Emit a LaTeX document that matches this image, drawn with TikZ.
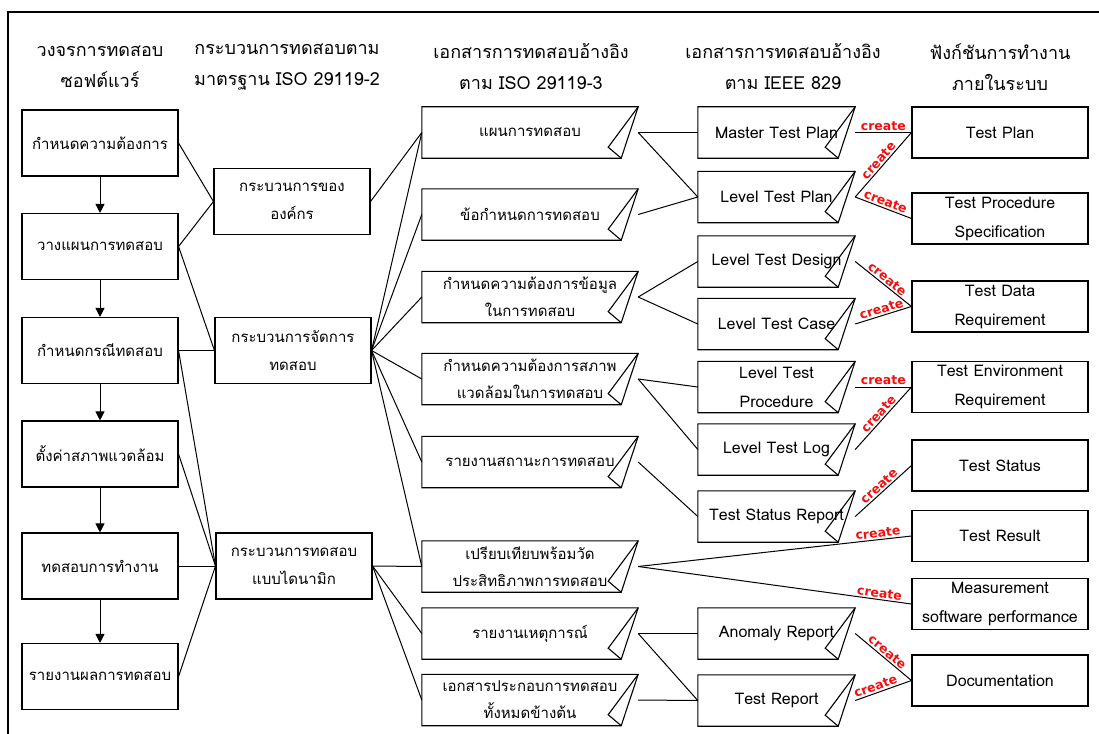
\documentclass[tikz,border=0pt]{standalone}
\usepackage{fontspec}
\setmainfont[Script=Thai]{Loma}
\newfontfamily\mkfont{DejaVu Sans}
\usetikzlibrary{arrows.meta, positioning, calc}
\definecolor{mkred}{HTML}{F01010}

\tikzset{
  head/.style={align=center, font=\fontsize{18}{31}\selectfont},
  cyclebox/.style={draw, line width=1.1pt, minimum width=156pt, minimum height=66pt, align=center, inner sep=1pt, font=\fontsize{15}{28}\selectfont},
  docbox/.style={minimum height=51pt, align=center, inner sep=1pt, font=\fontsize{15}{27}\selectfont},
  latin/.style={font=\fontsize{16}{29}\selectfont},
  funcbox/.style={draw, line width=1.1pt, minimum width=176pt, minimum height=51pt, align=center, inner sep=1pt, font=\fontsize{16}{29}\selectfont},
  wire/.style={line width=1pt},
  flow/.style={line width=1pt, -{Triangle[width=9pt, length=9pt]}},
  mk/.style={sloped, above, inner sep=1.5pt, text=mkred, font=\mkfont\fontsize{12.5}{13}\selectfont\bfseries},
}

% document outline with folded corner
\newcommand{\docfold}[1]{%
  \draw[line width=1.1pt] (#1.north west) -- (#1.north east) -- ([xshift=-17pt]#1.south east) -- (#1.south west) -- cycle;
  \draw[line width=1.1pt] (#1.north east) -- ([xshift=-30pt, yshift=11pt]#1.south east) -- ([xshift=-17pt]#1.south east);}

\begin{document}
\begin{tikzpicture}[x=1pt, y=-1pt]
    \useasboundingbox (0,0) rectangle (1099,733);
    \draw[line width=1.3pt] (8,745) |- (1110,12);

    % headers
    \node[head] (h1) at (100,67) {วงจรการทดสอบ\\ซอฟต์แวร์};
    \node[head] (h2) at (287,67) {กระบวนการทดสอบตาม\\มาตรฐาน ISO 29119-2};
    \node[head] (h3) at (531,67) {เอกสารการทดสอบอ้างอิง\\ตาม ISO 29119-3};
    \node[head] (h4) at (783,67) {เอกสารการทดสอบอ้างอิง\\ตาม IEEE 829};
    \node[head] (h5) at (1000,67) {ฟังก์ชันการทำงาน\\ภายในระบบ};

    % test cycle
    \node[cyclebox] (req) at (100,143) {กำหนดความต้องการ};
    \node[cyclebox] (plan) at (100,246.5) {วางแผนการทดสอบ};
    \node[cyclebox] (case) at (100,350.5) {กำหนดกรณีทดสอบ};
    \node[cyclebox] (env) at (100,454) {ตั้งค่าสภาพแวดล้อม};
    \node[cyclebox] (exec) at (100,566) {ทดสอบการทำงาน};
    \node[cyclebox] (rep) at (100,676.5) {รายงานผลการทดสอบ};

    % ISO 29119-2 processes
    \node[cyclebox] (org) at (292,201.5) {กระบวนการของ\\องค์กร};
    \node[cyclebox] (mgmt) at (293,350.5) {กระบวนการจัดการ\\ทดสอบ};
    \node[cyclebox] (dyn) at (294,566) {กระบวนการทดสอบ\\แบบไดนามิก};

    % ISO 29119-3 documents
    \node[docbox, minimum width=216pt] (d1) at (530,132.5) {แผนการทดสอบ};
    \node[docbox, minimum width=216pt] (d2) at (530,214.5) {ข้อกำหนดการทดสอบ};
    \node[docbox, minimum width=216pt] (d3) at (530,297) {กำหนดความต้องการข้อมูล\\ในการทดสอบ};
    \node[docbox, minimum width=216pt] (d4) at (530,379) {กำหนดความต้องการสภาพ\\แวดล้อมในการทดสอบ};
    \node[docbox, minimum width=216pt] (d5) at (530,462) {รายงานสถานะการทดสอบ};
    \node[docbox, minimum width=216pt] (d6) at (530,566.5) {เปรียบเทียบพร้อมวัด\\ประสิทธิภาพการทดสอบ};
    \node[docbox, minimum width=216pt] (d7) at (530,633.5) {รายงานเหตุการณ์};
    \node[docbox, minimum width=216pt] (d8) at (530,700) {เอกสารประกอบการทดสอบ\\ทั้งหมดข้างต้น};

    % IEEE 829 documents
    \node[docbox, latin, minimum width=157pt] (mtp) at (776.5,132.5) {Master Test Plan};
    \node[docbox, latin, minimum width=157pt] (ltp) at (776.5,197) {Level Test Plan};
    \node[docbox, latin, minimum width=157pt] (ltd) at (776.5,261.5) {Level Test Design};
    \node[docbox, latin, minimum width=157pt] (ltc) at (776.5,324) {Level Test Case};
    \node[docbox, latin, minimum width=157pt] (ltpr) at (776.5,387) {Level Test\\Procedure};
    \node[docbox, latin, minimum width=157pt] (ltl) at (776.5,449.5) {Level Test Log};
    \node[docbox, latin, minimum width=157pt] (tsr) at (776.5,516.5) {Test Status Report};
    \node[docbox, latin, minimum width=157pt] (ar) at (776.5,633.5) {Anomaly Report};
    \node[docbox, latin, minimum width=157pt] (tr) at (776.5,700.5) {Test Report};

    \foreach \n in {d1,d2,d3,d4,d5,d6,d7,d8,mtp,ltp,ltd,ltc,ltpr,ltl,tsr,ar,tr}
        \docfold{\n};

    % system functions
    \node[funcbox] (f1) at (1000,132.5) {Test Plan};
    \node[funcbox] (f2) at (1000,218.5) {Test Procedure\\Specification};
    \node[funcbox] (f3) at (1000,306.5) {Test Data\\Requirement};
    \node[funcbox] (f4) at (1000,387) {Test Environment\\Requirement};
    \node[funcbox] (f5) at (1000,465.5) {Test Status};
    \node[funcbox] (f6) at (1000,536) {Test Result};
    \node[funcbox] (f7) at (1000,604) {Measurement\\software performance};
    \node[funcbox] (f8) at (1000,680.5) {Documentation};

    % cycle flow
    \draw[flow] (req) -- (plan);
    \draw[flow] (plan) -- (case);
    \draw[flow] (case) -- (env);
    \draw[flow] (env) -- (exec);
    \draw[flow] (exec) -- (rep);

    % cycle -> processes
    \draw[wire] (req.east) -- (org.west);
    \draw[wire] (plan.east) -- (org.west);
    \draw[wire] (plan.east) -- (mgmt.west);
    \draw[wire] (case.east) -- (mgmt.west);
    \draw[wire] (case.east) -- (dyn.west);
    \draw[wire] (env.east) -- (dyn.west);
    \draw[wire] (exec.east) -- (dyn.west);
    \draw[wire] (rep.east) -- (dyn.west);

    % processes -> documents
    \draw[wire] (org.east) -- (d1.west);
    \foreach \d in {d1,d2,d3,d4,d5,d6}
        \draw[wire] (mgmt.east) -- (\d.west);
    \foreach \d in {d6,d7,d8}
        \draw[wire] (dyn.east) -- (\d.west);

    % ISO 29119-3 -> IEEE 829
    \draw[wire] (d1.east) -- (mtp.west);
    \draw[wire] (d1.east) -- (ltp.west);
    \draw[wire] (d2.east) -- (ltp.west);
    \draw[wire] (d3.east) -- (ltd.west);
    \draw[wire] (d3.east) -- (ltc.west);
    \draw[wire] (d4.east) -- (ltpr.west);
    \draw[wire] (d4.east) -- (ltl.west);
    \draw[wire] (d5.east) -- (tsr.west);
    \draw[wire] (d7.east) -- (ar.west);
    \draw[wire] (d7.east) -- (tr.west);
    \draw[wire] (d8.east) -- (tr.west);
    \draw[wire] (d6.east) -- node[mk, pos=0.88] {create} (f6.west);
    \draw[wire] (d6.east) -- node[mk, pos=0.88] {create} (f7.west);

    % IEEE 829 -> functions
    \draw[wire] (mtp.east) -- node[mk] {create} (f1.west);
    \draw[wire] (ltp.east) -- node[mk] {create} (f1.west);
    \draw[wire] (ltp.east) -- node[mk] {create} (f2.west);
    \draw[wire] (ltd.east) -- node[mk] {create} (f3.west);
    \draw[wire] (ltc.east) -- node[mk] {create} (f3.west);
    \draw[wire] (ltpr.east) -- node[mk] {create} (f4.west);
    \draw[wire] (ltl.east) -- node[mk] {create} (f4.west);
    \draw[wire] (tsr.east) -- node[mk] {create} (f5.west);
    \draw[wire] (ar.east) -- node[mk] {create} (f8.west);
    \draw[wire] (tr.east) -- node[mk, pos=0.4] {create} (f8.west);
\end{tikzpicture}
\end{document}
